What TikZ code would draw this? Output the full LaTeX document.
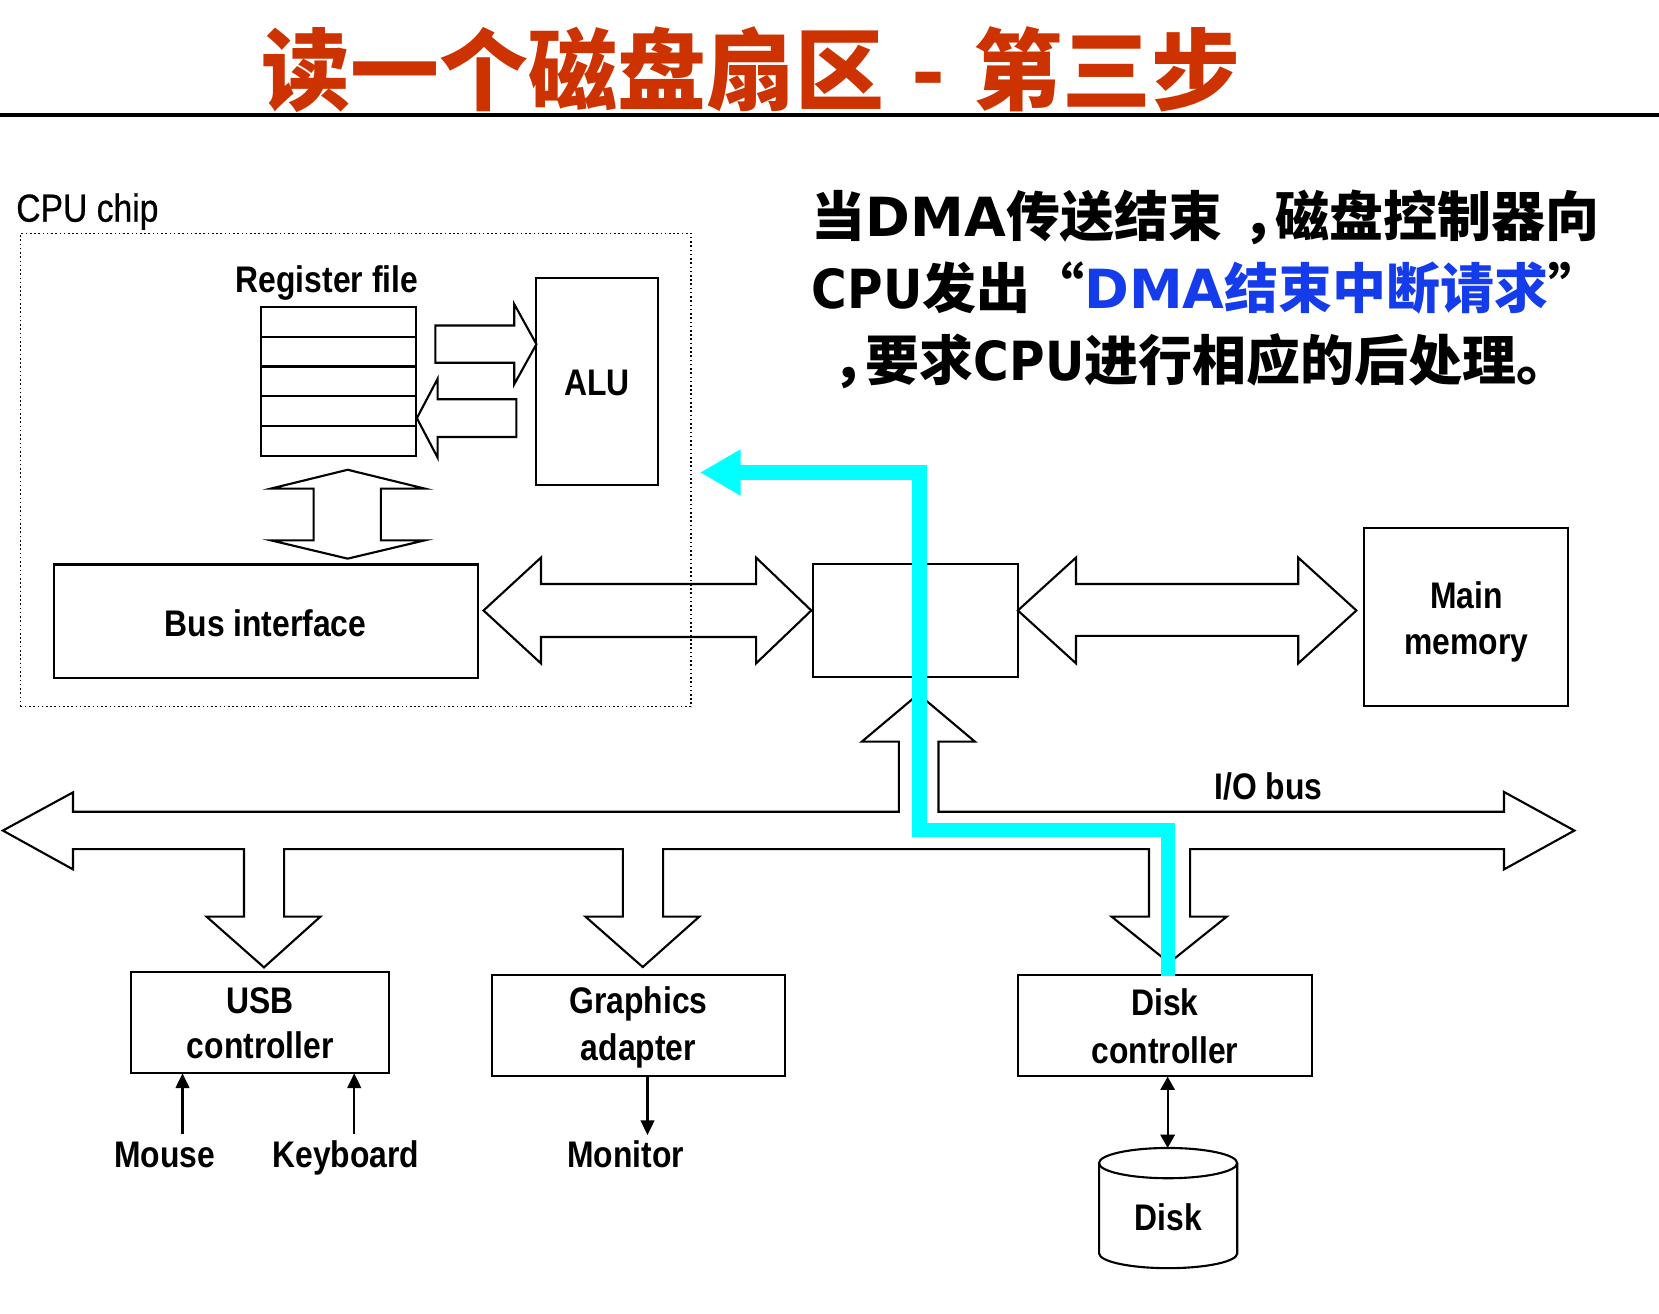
\documentclass[tikz,border=0pt]{standalone}
\usepackage{fontspec}
\usetikzlibrary{arrows.meta}
\newfontfamily\labfont[FakeStretch=0.86]{Liberation Sans}
\newfontfamily\cpufont[FakeStretch=0.86,FakeBold=0.6]{Liberation Sans}
\newfontfamily\cjkfont{Noto Sans CJK SC}
\newfontfamily\latfont{DejaVu Sans}
\newfontfamily\latcfont[FakeStretch=0.9]{DejaVu Sans}
\definecolor{titlered}{RGB}{204,51,0}
\definecolor{dmacyan}{RGB}{0,255,255}
\definecolor{dmablue}{RGB}{20,60,235}
\tikzset{
  box/.style={draw, line width=1pt, inner sep=0pt, outer sep=0pt},
  lbl/.style={inner sep=0pt, anchor=base, font=\labfont\bfseries\fontsize{17.5}{21}\selectfont},
  hollow/.style={draw, line width=1pt, line join=miter},
  thinarrow/.style={line width=1pt, -{Triangle[length=7pt,width=6.5pt]}},
  dblarrow/.style={line width=1pt, {Triangle[length=6.3pt,width=6.8pt]}-{Triangle[length=6.3pt,width=6.8pt]}},
  dmaline/.style={draw=dmacyan, line width=6.7pt, line join=miter, -{Triangle[length=19.2pt,width=20.5pt]}},
  cjktext/.style={inner sep=0pt, anchor=base west, font=\cjkfont\bfseries\fontsize{25.5}{30}\selectfont},
}
\newcommand{\lat}[1]{{\latfont\bfseries #1}}
\newcommand{\latc}[1]{{\latcfont\bfseries #1}}
\newcommand{\midcomma}{\hspace{0.38em}，\hspace{-0.38em}}
\begin{document}
\begin{tikzpicture}[x=0.5pt,y=-0.5pt]
\useasboundingbox (0,0) rectangle (1568,1241);

% title
\node[inner sep=0pt, anchor=base west, text=titlered, font=\cjkfont\bfseries\fontsize{42}{50}\selectfont] (title) at (247,98) {读一个磁盘扇区\hspace{3.6pt} - \hspace{3.6pt}第三步};
\coordinate (ruleL) at (0,108.5);
\coordinate (ruleR) at (1568,108.5);
\draw[line width=1.8pt] (ruleL) -- (ruleR);

% explanation text
\node[cjktext] (t1) at (767,223.7) {当\lat{DMA}传送结束\midcomma 磁盘控制器向};
\node[cjktext] (t2) at (767,291.4) {\latc{CPU}发出“\textcolor{dmablue}{\lat{DMA}结束中断请求}”};
\node[cjktext] (t3) at (767,359.3) {\midcomma 要求\latc{CPU}进行相应的后处理。};

% CPU chip
\node[draw, line width=0.75pt, dash pattern=on 0.75pt off 1.25pt, inner sep=0pt, minimum width=316.75pt, minimum height=223.65pt] (cpuchip) at (336.25,444.25) {};
\node[inner sep=0pt, anchor=base west, font=\cpufont\fontsize{18.5}{22}\selectfont] (cpulbl) at (15,209.5) {CPU chip};

% register file
\node[box, minimum width=73pt, minimum height=70.5pt] (regfile) at (320,360.5) {};
\foreach \y in {318.2,346.4,374.6,402.8} \draw[line width=1pt] (247,\y) -- (393,\y);
\node[lbl] (reglbl) at (309,276) {Register file};

% ALU
\node[box, minimum width=57.25pt, minimum height=98.1pt] (alu) at (564.25,360.5) {};
\node[lbl] (alulbl) at (564,373.8) {ALU};

% reg <-> ALU arrows
\draw[hollow] (411.5,307.7) -- (486,307.7) -- (486,287.4) -- (507,325.3) -- (486,363.2) -- (486,342.9) -- (411.5,342.9) -- cycle;
\draw[hollow] (488,377.4) -- (413.6,377.4) -- (413.6,358) -- (394,395.2) -- (413.6,432.5) -- (413.6,413) -- (488,413) -- cycle;

% reg <-> bus interface
\draw[hollow] (328.6,444) -- (401.5,461.8) -- (360,461.8) -- (360,510.7) -- (401.5,510.7) -- (328.6,528) -- (256,510.7) -- (296.4,510.7) -- (296.4,461.8) -- (256,461.8) -- cycle;

% bus interface
\node[box, minimum width=200.5pt, minimum height=53.5pt] (busif) at (251.5,587) {};
\node[lbl] (buslbl) at (251,602) {Bus interface};

% I/O bridge and main memory
\node[box, minimum width=97pt, minimum height=53.3pt] (bridge) at (865,586.3) {};
\node[box, minimum width=96.5pt, minimum height=84pt] (mem) at (1385.5,583) {};
\node[lbl] (memlblA) at (1386,575) {Main};
\node[lbl] (memlblB) at (1386,619) {memory};

% system bus and memory bus
\draw[hollow] (457,577) -- (511.3,527) -- (511.3,552) -- (714.6,552) -- (714.6,527) -- (766.8,577) -- (714.6,627) -- (714.6,602) -- (511.3,602) -- (511.3,627) -- cycle;
\draw[hollow] (962,577) -- (1017,527) -- (1017,552) -- (1227,552) -- (1227,527) -- (1282,577) -- (1227,627) -- (1227,601) -- (1017,601) -- (1017,627) -- cycle;

% I/O bus
\draw[hollow] (2.7,785) -- (69,748.9) -- (69,767.2) -- (849.6,767.2) -- (849.6,701) -- (814.5,701) -- (868,656) -- (921.5,701) -- (887,701) -- (887,767.2) -- (1421.5,767.2) -- (1421.5,748.5) -- (1488,785) -- (1421.5,821.7) -- (1421.5,802.5) -- (1124.8,802.5) -- (1124.8,866.4) -- (1159.4,866.4) -- (1105,910) -- (1050.7,866.4) -- (1086,866.4) -- (1086,802.5) -- (626.7,802.5) -- (626.7,866.4) -- (660.9,866.4) -- (607.5,914) -- (553.4,866.4) -- (588.7,866.4) -- (588.7,802.5) -- (268.5,802.5) -- (268.5,866.4) -- (302.8,866.4) -- (249.5,914.3) -- (195.3,866.4) -- (230.6,866.4) -- (230.6,802.5) -- (69,802.5) -- (69,821.7) -- cycle;
\node[lbl] (iolbl) at (1199,756) {I/O bus};

% controllers
\node[box, minimum width=122pt, minimum height=48pt] (usb) at (245.75,966.45) {};
\node[lbl] (usblblA) at (246,957.8) {USB};
\node[lbl] (usblblB) at (246,1000.3) {controller};
\node[box, minimum width=138.35pt, minimum height=47.7pt] (gfx) at (603.35,969.3) {};
\node[lbl] (gfxlblA) at (603.4,958) {Graphics};
\node[lbl] (gfxlblB) at (603.4,1002) {adapter};
\node[box, minimum width=139pt, minimum height=47.55pt] (diskc) at (1101,969.15) {};
\node[lbl] (dclblA) at (1101,959.4) {Disk};
\node[lbl] (dclblB) at (1101,1005) {controller};

% devices
\node[lbl] (mouse) at (155.7,1103) {Mouse};
\node[lbl] (keyboard) at (327,1103) {Keyboard};
\node[lbl] (monitor) at (591.4,1103) {Monitor};
\coordinate (mouseA) at (172.5,1071.8);
\coordinate (keyA) at (334.8,1071.8);
\coordinate (monA) at (612,1072.8);
\draw[thinarrow] (mouseA) -- (mouseA |- usb.south);
\draw[thinarrow] (keyA) -- (keyA |- usb.south);
\draw[thinarrow] (monA |- gfx.south) -- (monA);

% disk
\node[inner sep=0pt, minimum width=65.3pt, minimum height=56.8pt] (disk) at (1104,1141.8) {};
\draw[line width=1pt] (1104,1099.3) ellipse [x radius=32.65pt, y radius=7.15pt];
\draw[line width=1pt] (1038.8,1099.3) -- (1038.8,1184.6) arc[start angle=180, end angle=360, x radius=32.65pt, y radius=7pt] -- (1169.4,1099.3);
\node[lbl] (disklbl) at (1104,1162.6) {Disk};
\coordinate (dcA) at (1103.6,1017.6);
\coordinate (diskA) at (1103.6,1085);
\draw[dblarrow] (dcA) -- (diskA);

% DMA interrupt path
\coordinate (dmaStart) at (1104,922);
\coordinate (dmaEnd) at (661.6,446.6);
\draw[dmaline] (dmaStart) -- (1104,784.6) -- (869,784.6) -- (869,446.6) -- (dmaEnd);
\end{tikzpicture}
\end{document}
